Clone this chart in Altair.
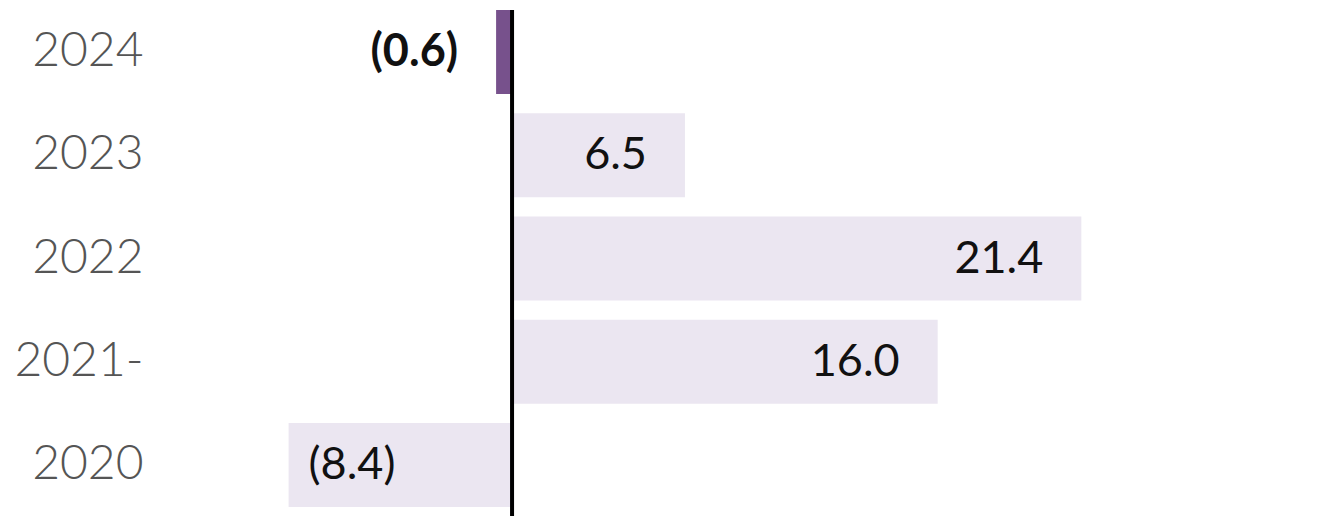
import altair as alt
import pandas as pd

years = ["2024", "2023", "2022", "2021-", "2020"]
values = [-0.6, 6.5, 21.4, 16.0, -8.4]
highlight = "2024"

def fmt(v):
    return f"({abs(v):.1f})" if v < 0 else f"{v:.1f}"

df = pd.DataFrame({
    "year": years,
    "value": values,
    "label": [fmt(v) for v in values],
})

W, H = 1150, 497
x_scale = alt.Scale(domain=[-13.61, 29.62], nice=False, zero=False)
y_enc = alt.Y("year:N", sort=years, title=None,
              scale=alt.Scale(paddingInner=0.187, paddingOuter=0),
              axis=alt.Axis(domain=False, ticks=False, labelFontSize=48,
                            labelFont="Lato", labelFontWeight=300,
                            labelColor="#555555", labelPadding=7,
                            minExtent=142, maxExtent=142))

base = alt.Chart(df)

bars = base.mark_bar().encode(
    x=alt.X("value:Q", scale=x_scale, axis=None),
    x2=alt.datum(0),
    y=y_enc,
    color=alt.condition(alt.datum.year == highlight,
                        alt.value("#77518c"), alt.value("#ebe6f1")),
)

txt_common = dict(fontSize=45, font="Lato", baseline="middle", color="#111111")

labels_right = base.transform_filter(
    (alt.datum.value > -3) & (alt.datum.year != highlight)
).mark_text(align="right", dx=-38, **txt_common).encode(
    x=alt.X("value:Q", scale=x_scale), y=alt.Y("year:N", sort=years), text="label:N")

labels_left = base.transform_filter(
    (alt.datum.value <= -3) & (alt.datum.year != highlight)
).mark_text(align="left", dx=20, **txt_common).encode(
    x=alt.X("value:Q", scale=x_scale), y=alt.Y("year:N", sort=years), text="label:N")

labels_hl = base.transform_filter(alt.datum.year == highlight).mark_text(
    align="right", dx=-38, fontWeight="bold", **txt_common).encode(
    x=alt.X("value:Q", scale=x_scale), y=alt.Y("year:N", sort=years), text="label:N")

rule = alt.Chart(pd.DataFrame({"z": [0]})).mark_rule(color="black", strokeWidth=4).encode(
    x=alt.X("z:Q", scale=x_scale), y=alt.value(0), y2=alt.value(H + 11))

chart = alt.layer(bars, labels_right, labels_left, labels_hl, rule).properties(
    width=W, height=H, padding=0
).configure_view(stroke=None)

chart.save("out.html", embed_options={"renderer": "svg", "actions": False})
